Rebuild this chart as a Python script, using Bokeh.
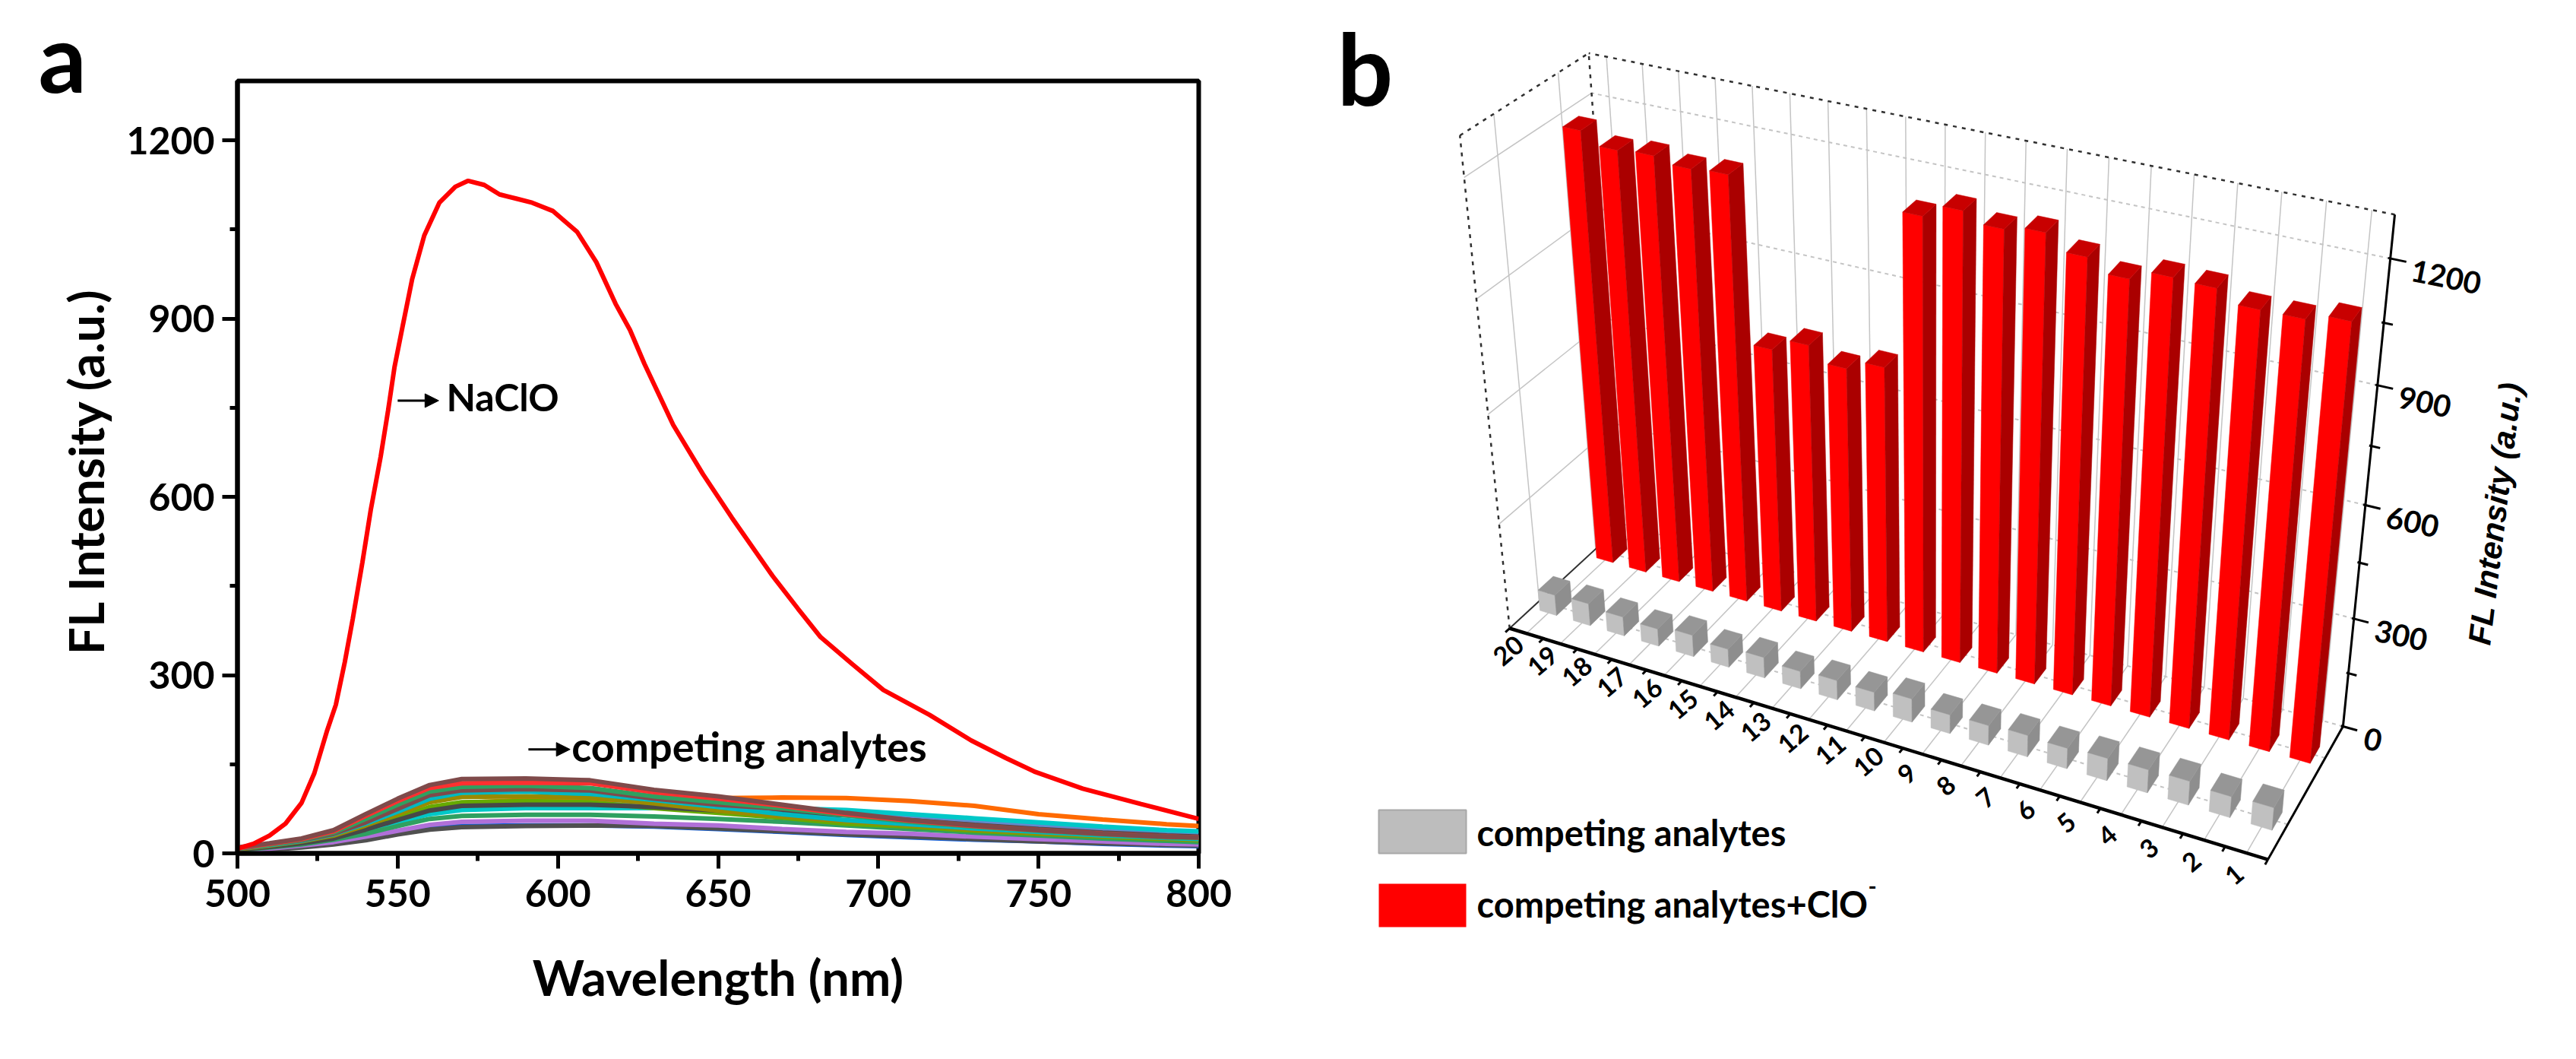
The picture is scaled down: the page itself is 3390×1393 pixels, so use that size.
import numpy as np
from bokeh.plotting import figure
from bokeh.layouts import row
from bokeh.models import Range1d, FixedTicker, Arrow, NormalHead
from bokeh.core.properties import value
from bokeh.embed import file_html
from bokeh.resources import INLINE

# ---------- panel a data ----------
naclo_wl = [500,505,510,515,520,524,528,530.7,533.5,536,539,541.6,544.7,547,549,551.5,554.5,558.3,563,568,572,577,581.8,587,592,598.5,606,612,618,622.5,627,636,645.3,654.3,667,674.9,682,692,701.6,716,729,740,749,763.8,782,800]
naclo_i = [8,16,30,50,85,135,207,250,322,395,490,578,668,745,818,886,966,1040,1095,1122,1132,1125,1109,1102,1095,1081,1046,995,925,881,824,721,638,565,467,412,364,318,275,233,190,160,137,109,83,58]

comp_wl = [500,510,520,530,540,550,560,570,590,610,630,650,670,690,710,730,750,770,790,800]
c_orange = [9,15,22,32,45,60,75,85,90,90,91,93,94,93,88,80,66,57,49,46]
c_steel  = [8,14,20,30,44,58,70,78,84,84,80,78,74,68,60,52,46,40,35,33]
c_cyan1  = [7,12,19,27,38,52,66,73,76,76,76,77,76,73,66,59,52,45,39,37]
c_blue   = [3,7,11,17,25,34,42,46,47,47,45,41,36,31,27,23,20,16,13,12]
c_dark2  = [3,6,10,15,22,32,40,44,46,47,46,42,37,32,28,24,20,17,14,13]
c_purple = [4,8,13,19,28,38,48,53,55,55,50,47,41,36,33,28,24,20,16,15]
c_green2 = [5,10,15,23,33,46,58,63,65,65,62,58,53,47,41,35,30,25,21,19]
c_lime   = [6,12,18,27,42,60,78,86,88,86,76,68,60,50,45,38,33,28,24,22]
c_dark1  = [6,11,17,25,40,56,72,80,82,82,78,72,68,64,56,48,41,35,30,28]
c_olive  = [7,13,20,30,47,66,86,95,96,94,84,72,62,54,47,40,34,29,25,23]
c_cyan2  = [8,14,21,32,50,70,92,102,104,100,90,78,66,56,49,42,36,30,26,24]
c_brown2 = [8,15,22,33,52,75,98,106,108,106,92,82,75,65,55,47,40,34,29,27]
c_green1 = [9,15,23,35,58,82,104,112,114,110,96,86,76,64,53,45,38,32,27,26]
c_red    = [9,16,24,37,63,88,110,118,119,118,103,92,80,66,55,46,39,33,28,27]
c_brown1 = [10,17,25,39,66,92,115,125,126,123,107,96,82,68,56,47,39,33,28,27]
comp_series = [c_orange,c_steel,c_cyan1,c_blue,c_dark2,c_purple,c_green2,c_lime,c_dark1,c_olive,c_cyan2,c_brown2,c_green1,c_red,c_brown1]
comp_colors = ["#ff6a00","#6688cc","#00c8c8","#1060e0","#505050","#b070d8","#2fa060","#66aa00","#484848","#9a8a00","#00b8c0","#7f4a4a","#2fa060","#ff3030","#7f4a4a"]

x_ticks = [500,550,600,650,700,750,800]
x_minor = [525,575,625,675,725,775]
y_ticks = [0,300,600,900,1200]
y_minor = [150,450,750,1050]

# ---------- panel b data ----------
categories = list(range(1,21))
grey_vals = [62,58,66,64,62,57,60,55,53,66,53,55,50,59,52,62,50,55,64,60]
red_vals = [1126,1108,1107,1135,1138,1112,1142,1178,1165,1188,1154,755,728,765,730,1153,1147,1160,1154,1184]
z_ticks = [0,300,600,900,1200]
z_minor = [150,450,750,1050]
Z_MAX = 1300

FONT = value("Lato")

# ---------- strip left of panel a: its letter and its y title ----------
s = figure(width=160, height=1377, output_backend="svg", toolbar_location=None,
           x_range=Range1d(0,160), y_range=Range1d(1377,0),
           min_border=0, x_axis_location=None, y_axis_location=None)
s.frame_align = False
s.grid.visible = False
s.outline_line_color = None
s.text([50],[73],text=["a"],text_font=FONT,text_font_style="bold",text_font_size="125px",text_baseline="alphabetic",text_color="black")
s.text([112],[619],text=["FL Intensity (a.u.)"],angle=np.pi/2,text_align="center",text_baseline="middle",
       text_font=FONT,text_font_style="bold",text_font_size="64px",text_color="black")

# ---------- panel a ----------
a = figure(width=1540, height=1377, output_backend="svg", toolbar_location=None,
           x_range=Range1d(500,800), y_range=Range1d(0,Z_MAX),
           min_border_left=152, min_border_right=123, min_border_top=106, min_border_bottom=255)
a.frame_align = False
a.grid.visible = False
a.outline_line_color = "black"; a.outline_line_width = 6
for ser, c in zip(comp_series, comp_colors):
    a.line(comp_wl, ser, line_color=c, line_width=6)
a.line(naclo_wl, naclo_i, line_color="#ff0000", line_width=6)

for ax, t, m in ((a.xaxis[0], x_ticks, x_minor), (a.yaxis[0], y_ticks, y_minor)):
    ax.ticker = FixedTicker(ticks=t, minor_ticks=m)
    ax.axis_line_width = 6; ax.axis_line_color = "black"
    ax.major_tick_line_width = 5; ax.minor_tick_line_width = 5
    ax.major_tick_out = 20; ax.major_tick_in = 0
    ax.minor_tick_out = 10; ax.minor_tick_in = 0
    ax.major_label_text_font = "Lato"; ax.major_label_text_font_style = "bold"
    ax.major_label_text_font_size = "50px"; ax.major_label_text_color = "black"
a.xaxis[0].axis_label = "Wavelength (nm)"
a.xaxis[0].axis_label_text_font = "Lato"
a.xaxis[0].axis_label_text_font_style = "bold"
a.xaxis[0].axis_label_text_color = "black"
a.xaxis[0].axis_label_text_font_size = "65px"
a.xaxis[0].major_label_standoff = 14
a.yaxis[0].major_label_standoff = 10
a.xaxis[0].axis_label_standoff = 50

a.add_layout(Arrow(end=NormalHead(size=18, fill_color="black", line_color="black"),
                   x_start=550, y_start=762, x_end=562.8, y_end=762, line_width=3, line_color="black"))
a.add_layout(Arrow(end=NormalHead(size=18, fill_color="black", line_color="black"),
                   x_start=590.8, y_start=175, x_end=603.8, y_end=175, line_width=3, line_color="black"))
a.text([565.2],[768],text=["NaClO"],text_font=FONT,text_font_style="bold",text_font_size="50px",text_baseline="alphabetic")
a.text([604.3],[181],text=["competing analytes"],text_font=FONT,text_font_style="bold",text_font_size="54px",text_baseline="alphabetic")

# ---------- panel b ----------
b = figure(width=1674, height=1377, output_backend="svg", toolbar_location=None,
           x_range=Range1d(1700,3374), y_range=Range1d(1377,0),
           min_border=0, x_axis_location=None, y_axis_location=None)
b.frame_align = False
b.grid.visible = False
b.outline_line_color = None

# box corners (category position / 20, depth, intensity / max) -> where they sit on the page
world = [(0,0,0),(0,1,0),(0,1,1),(1,1,1),(1,0,1),(1,0,0),(1,1,0)]
screen = [(2984,1131),(3083,954),(3151,282),(2090,69),(1921,178),(1986,825),(2135,690)]
rows = []
for (u,v,w),(X,Y) in zip(world,screen):
    rows.append([u,v,w,1,0,0,0,0,-X*u,-X*v,-X*w,-X])
    rows.append([0,0,0,0,u,v,w,1,-Y*u,-Y*v,-Y*w,-Y])
M = np.linalg.svd(np.array(rows,float))[2][-1].reshape(3,4)

def proj(p, v, val):
    h = M @ np.array([p/20, v, val/Z_MAX, 1.0])
    return h[0]/h[2], h[1]/h[2]

def seg(p0,v0,w0,p1,v1,w1):
    a0, b0 = proj(p0,v0,w0); a1, b1 = proj(p1,v1,w1)
    return [a0,a1],[b0,b1]

def lines(segs, **kw):
    b.multi_line([t[0] for t in segs],[t[1] for t in segs], **kw)

GRID = dict(line_color="#c4c4c4", line_width=1.5)
DOT = dict(line_color="#c4c4c4", line_width=2, line_dash="5 5")
DARK = dict(line_color="#303030", line_width=2.5, line_dash="5 7")

lines([seg(k-.5,1,0,k-.5,1,Z_MAX) for k in categories], **GRID)
lines([seg(k-.5,0,0,k-.5,1,0) for k in categories], **GRID)
lines([seg(20,v,0,20,v,Z_MAX) for v in (.25,.75)], **GRID)
lines([seg(20,0,z,20,1,z) for z in z_ticks[1:]], **GRID)
lines([seg(0,1,z,20,1,z) for z in z_ticks], **DOT)
lines([seg(0,v,0,20,v,0) for v in (.25,.75)], **DOT)
lines([seg(0,1,Z_MAX,20,1,Z_MAX), seg(20,0,Z_MAX,20,1,Z_MAX), seg(20,0,0,20,0,Z_MAX), seg(20,1,0,20,1,Z_MAX)], **DARK)
lines([seg(20,0,0,20,1,0)], line_color="#303030", line_width=2)

# bars, drawn from the back row to the front, left to right
BW, BD = 0.25, 0.065
xs, ys, cols = [], [], []
for vc, vals, faces in ((.75, red_vals, ("#ff0000","#aa0000","#c80000")),
                        (.25, grey_vals, ("#c0c0c0","#8e8e8e","#969696"))):
    for k, val in sorted(zip(categories, vals), reverse=True):
        pL, pR = k-.5+BW, k-.5-BW      # larger position is further left on the page
        vF, vB = vc-BD, vc+BD
        quads = (
            [(pL,vF,0),(pR,vF,0),(pR,vF,val),(pL,vF,val)],
            [(pR,vF,0),(pR,vB,0),(pR,vB,val),(pR,vF,val)],
            [(pL,vF,val),(pR,vF,val),(pR,vB,val),(pL,vB,val)],
        )
        for q, c in zip(quads, faces):
            pts = [proj(*t) for t in q]
            xs.append([t[0] for t in pts]); ys.append([t[1] for t in pts]); cols.append(c)
b.patches(xs, ys, fill_color=cols, line_color=cols, line_width=0.5)

# axes of the box
lines([seg(0,1,0,0,1,Z_MAX), seg(0,0,0,0,1,0)], line_color="black", line_width=3)
lines([seg(0,0,0,20,0,0)], line_color="black", line_width=4.5)
lines([seg(k,0,0,k,-.035,0) for k in range(0,21)], line_color="black", line_width=3)
lines([seg(.05,1,z,-.35,1,z) for z in z_ticks], line_color="black", line_width=3)
lines([seg(.05,1,z,-.2,1,z) for z in z_minor], line_color="black", line_width=3)

lab = [proj(k-.5,-.15,0) for k in categories]
b.text([t[0] for t in lab],[t[1] for t in lab],text=[str(k) for k in categories],
       angle=0.7, text_align="center", text_baseline="middle",
       text_font=FONT, text_font_style="bold", text_font_size="34px", text_color="black")
zl = [proj(0,1,z) for z in z_ticks]
b.text([t[0]+28 for t in zl],[t[1]+15 for t in zl],text=[str(z) for z in z_ticks],
       angle=-0.2, text_align="left", text_baseline="middle",
       text_font=FONT, text_font_style="bold", text_font_size="40px", text_color="black")
b.text([3283],[675],text=["FL Intensity (a.u.)"],angle=1.45,text_align="center",text_baseline="middle",
       text_font=value("Liberation Sans"),text_font_style="bold italic",text_font_size="42px",text_color="black")

# legend and panel letter
b.quad(left=[1814],right=[1929],top=[1065],bottom=[1122],fill_color="#bdbdbd",line_color="#a8a8a8",line_width=2)
b.quad(left=[1814],right=[1929],top=[1162],bottom=[1219],fill_color="#ff0000",line_color="#ff0000",line_width=0)
b.text([1943],[1094],text=["competing analytes"],text_font=FONT,text_font_style="bold",text_font_size="47px",text_baseline="alphabetic")
b.text([1943],[1188],text=["competing analytes+ClO"],text_font=FONT,text_font_style="bold",text_font_size="47px",text_baseline="alphabetic")
b.text([2458],[1165],text=["-"],text_font=FONT,text_font_style="bold",text_font_size="30px",text_baseline="alphabetic")
b.text([1759],[88],text=["b"],text_font=FONT,text_font_style="bold",text_font_size="130px",text_baseline="alphabetic")

page = row(s, a, b, spacing=0)
open("out.html","w").write(file_html(page, INLINE))
